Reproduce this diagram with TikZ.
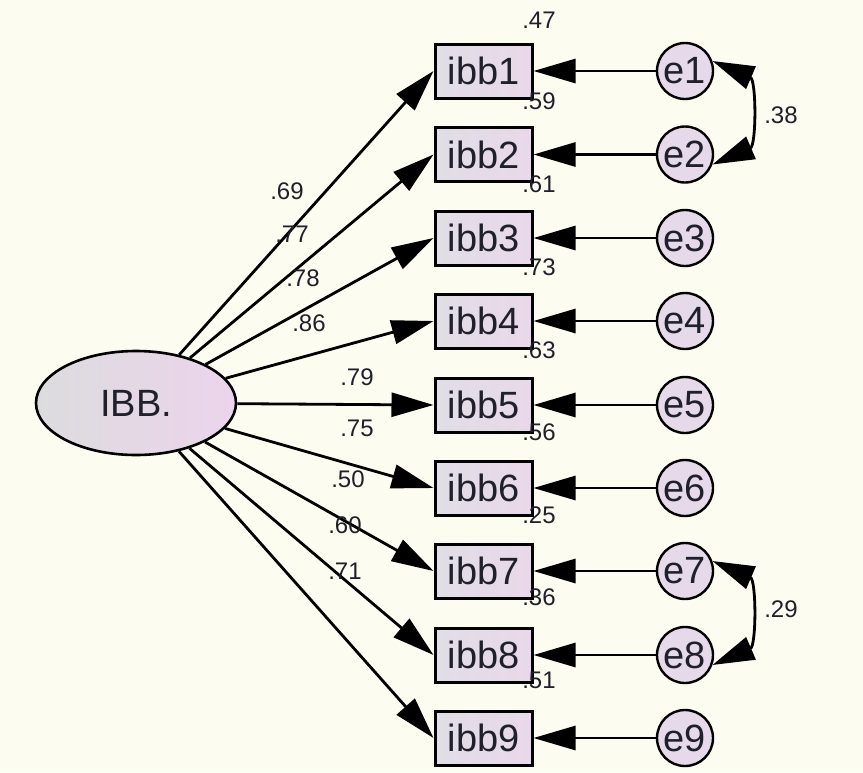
\documentclass[tikz,border=0pt]{standalone}
\usepackage{fontspec}
\setmainfont{Liberation Sans}
\usetikzlibrary{arrows.meta,shapes.geometric}
\definecolor{bg}{RGB}{252,252,240}
\definecolor{ink}{RGB}{32,32,44}
\definecolor{lavL}{RGB}{224,222,230}
\definecolor{lavR}{RGB}{234,216,234}
\definecolor{grayL}{RGB}{220,220,222}
\definecolor{pinkR}{RGB}{236,212,236}
\definecolor{errfill}{RGB}{230,218,234}
\begin{document}
\begin{tikzpicture}[x=1pt,y=-1pt,
  bigtext/.style={font=\fontsize{38}{40}\selectfont, text=ink},
  coef/.style={font=\fontsize{24}{26}\selectfont, text=ink, inner sep=0pt},
  latent/.style={ellipse, draw=black, line width=2.6pt, minimum width=200pt,
    minimum height=104pt, inner sep=0pt, left color=grayL, right color=pinkR, bigtext},
  obs/.style={rectangle, draw=black, line width=3pt, minimum width=97pt,
    minimum height=54pt, inner sep=0pt, left color=lavL, right color=lavR, bigtext},
  err/.style={circle, draw=black, line width=2.4pt, minimum size=56pt,
    inner sep=0pt, fill=errfill, bigtext},
  path/.style={draw=black, line width=2.8pt, -{Triangle[length=42pt,width=24pt]}},
  cov/.style={draw=black, line width=2.8pt,
    {Triangle[length=42pt,width=24pt]}-{Triangle[length=42pt,width=24pt]}}
]
\fill[bg] (0,0) rectangle (863,772);
\useasboundingbox (0,0) rectangle (863,772);

% latent factor
\node[latent] (IBB) at (136,403) {IBB.};

% indicators, error terms and paths
\foreach \i/\y in {1/71,2/154.5,3/238,4/321,5/405,6/488,7/571,8/655,9/738}{
  \node[obs] (ibb\i) at (483.5,\y) {ibb\i};
  \node[err] (e\i) at (685,\y) {e\i};
  \draw[path] (e\i.west) -- (ibb\i.east);
  \draw[path] (IBB) -- (ibb\i.west);
}

% error covariances
\draw[cov] (e1.20) .. controls +(44,19) and +(44,-19) .. (e2.-20);
\draw[cov] (e7.20) .. controls +(44,19) and +(44,-19) .. (e8.-20);
\node[coef] (c12) at (781,115) {.38};
\node[coef] (c78) at (781,609) {.29};

% squared multiple correlations
\foreach \v/\y in {.47/20,.59/101,.61/184,.73/267,.63/350,.56/432,.25/515,.36/597,.51/680}{
  \node[coef] at (539,\y) {\v};
}

% standardized loadings
\foreach \v/\x/\y in {.69/287/191,.77/292/234,.78/303/278,.86/309/323,.79/357/377,
                      .75/357/428,.50/348/479,.60/345/525,.71/345/571}{
  \node[coef] at (\x,\y) {\v};
}
\end{tikzpicture}
\end{document}
